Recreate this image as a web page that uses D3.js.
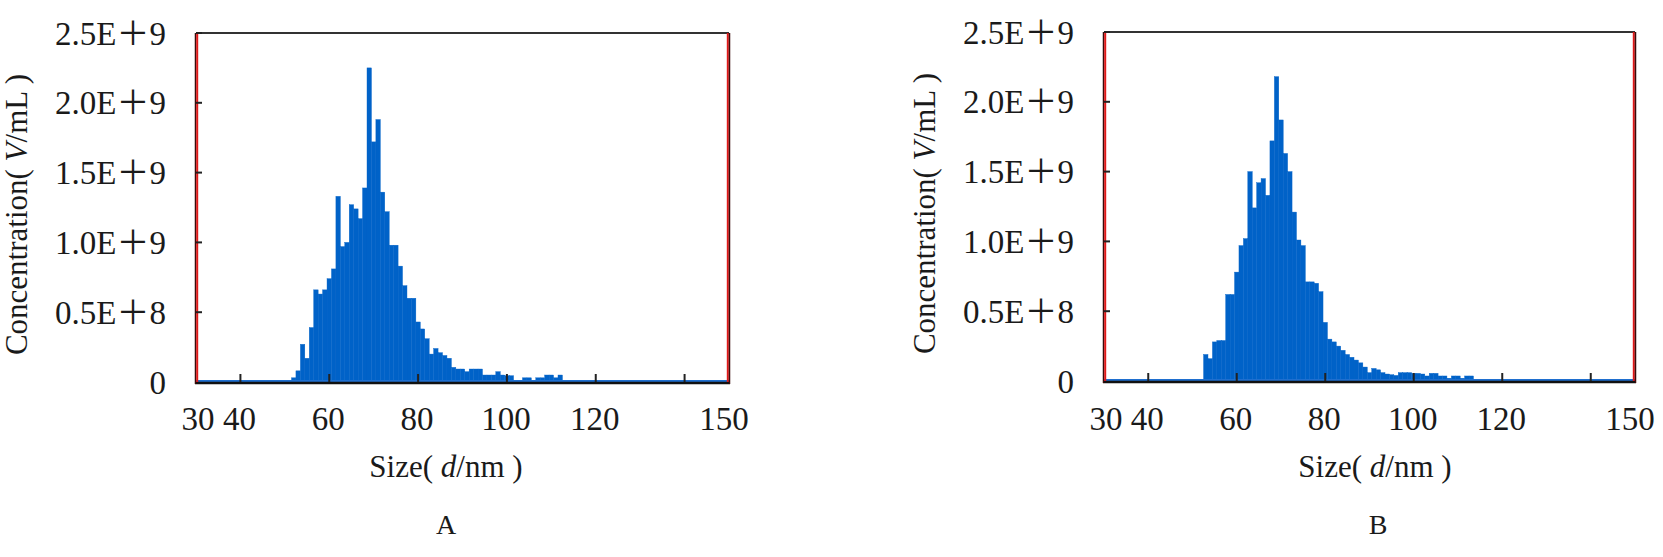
<!DOCTYPE html>
<html><head><meta charset="utf-8">
<script src="https://cdn.jsdelivr.net/npm/d3@7"></script>
<style>html,body{margin:0;padding:0;background:#fff;} svg{display:block;}</style>
</head><body>
<svg id="chart" width="1663" height="557"></svg>
<script>
// ---- data (concentration in units of 1E+9 particles/mL, 1 nm bins centred on size) ----
const sizesA = [52,53,54,55,56,57,58,59,60,61,62,63,64,65,66,67,68,69,70,71,72,73,74,75,76,77,78,79,80,81,82,83,84,85,86,87,88,89,90,91,92,93,94,95,96,97,98,99,100,101,102,103,104,105,106,107,108,109,110,111,112];
const valuesA = [0.03,0.08,0.27,0.17,0.39,0.66,0.63,0.66,0.74,0.81,1.33,0.97,1.00,1.27,1.24,1.17,1.39,2.25,1.72,1.88,1.36,1.22,0.98,0.98,0.83,0.69,0.60,0.60,0.43,0.38,0.31,0.20,0.24,0.21,0.19,0.17,0.105,0.093,0.093,0.074,0.093,0.093,0.093,0.05,0.05,0.05,0.074,0.05,0.045,0.045,0,0,0.03,0.03,0,0.03,0.03,0.05,0.05,0.03,0.05];
const sizesB = [53,54,55,56,57,58,59,60,61,62,63,64,65,66,67,68,69,70,71,72,73,74,75,76,77,78,79,80,81,82,83,84,85,86,87,88,89,90,91,92,93,94,95,96,97,98,99,100,101,102,103,104,105,106,107,108,109,110,111,112,113];
const valuesB = [0.19,0.16,0.28,0.29,0.29,0.62,0.62,0.78,0.97,1.02,1.50,1.24,1.42,1.45,1.33,1.72,2.18,1.87,1.63,1.50,1.21,1.01,0.97,0.71,0.71,0.70,0.64,0.42,0.30,0.28,0.25,0.22,0.19,0.17,0.15,0.13,0.10,0.06,0.09,0.08,0.06,0.05,0.045,0.04,0.06,0.06,0.06,0.055,0.055,0.05,0.036,0.055,0.055,0.036,0.036,0.02,0.036,0.036,0.02,0.036,0.036];
const yTickValues = [0, 0.5, 1.0, 1.5, 2.0, 2.5];
const yTickLabels = ["0", "0.5E\uFF0B8", "1.0E\uFF0B9", "1.5E\uFF0B9", "2.0E\uFF0B9", "2.5E\uFF0B9"];
const xTickValues = [40, 60, 80, 100, 120, 140];
const xLabelValues = [30, 40, 60, 80, 100, 120, 150];
const xLabelTexts = ["30", "40", "60", "80", "100", "120", "150"];
const panelNames = ["A", "B"];

const svg = d3.select("#chart");
const SERIF = "'Liberation Serif','Times New Roman','Noto Sans CJK SC',serif";
const TXT = "#1a1a1a";
const BAR = "#0062c8";

const panels = [
  {name: panelNames[0], sizes: sizesA, values: valuesA, left: 196, right: 729, top: 33, bottom: 382, yTitleX: 27, xTitleX: 446, nameX: 446},
  {name: panelNames[1], sizes: sizesB, values: valuesB, left: 1104, right: 1635, top: 32, bottom: 381, yTitleX: 935, xTitleX: 1375, nameX: 1378}
];

panels.forEach(p => {
  const x = d3.scaleLinear().domain([30, 150]).range([p.left, p.right]);
  const y = d3.scaleLinear().domain([0, 2.5]).range([p.bottom, p.top]);
  const g = svg.append("g");

  // bars
  const bins = p.sizes.map((s, i) => ({s, v: p.values[i]}));
  g.append("g").selectAll("rect").data(bins).join("rect")
    .attr("x", d => x(d.s - 0.5))
    .attr("width", d => x(d.s + 0.5) - x(d.s - 0.5))
    .attr("y", d => y(d.v))
    .attr("height", d => y(0) - y(d.v))
    .attr("fill", BAR).attr("stroke", BAR).attr("stroke-width", 0.4);

  // histogram baseline (blue)
  g.append("line").attr("x1", x(30)).attr("x2", x(150))
    .attr("y1", y(0) - 1).attr("y2", y(0) - 1)
    .attr("stroke", "#1f6fcf").attr("stroke-width", 2);

  // frame
  g.append("line").attr("x1", x(30)).attr("x2", x(150)).attr("y1", p.top).attr("y2", p.top)
    .attr("stroke", "#333").attr("stroke-width", 2);
  g.append("line").attr("x1", x(30) - 1).attr("x2", x(150) + 1).attr("y1", y(0) + 1).attr("y2", y(0) + 1)
    .attr("stroke", "#111").attr("stroke-width", 2.5);
  g.append("line").attr("x1", x(30) - 0.5).attr("x2", x(30) - 0.5).attr("y1", p.top).attr("y2", y(0) + 2)
    .attr("stroke", "#3a0a0a").attr("stroke-width", 1.5);
  g.append("line").attr("x1", x(30) + 1.2).attr("x2", x(30) + 1.2).attr("y1", p.top).attr("y2", y(0))
    .attr("stroke", "#e01818").attr("stroke-width", 2);
  g.append("line").attr("x1", x(150) - 1.2).attr("x2", x(150) - 1.2).attr("y1", p.top).attr("y2", y(0))
    .attr("stroke", "#e01818").attr("stroke-width", 2);
  g.append("line").attr("x1", x(150) + 0.5).attr("x2", x(150) + 0.5).attr("y1", p.top).attr("y2", y(0) + 2)
    .attr("stroke", "#3a0a0a").attr("stroke-width", 1.5);

  // y ticks (inward)
  g.append("g").selectAll("line").data(yTickValues.slice(1)).join("line")
    .attr("x1", x(30)).attr("x2", x(30) + 6)
    .attr("y1", d => y(d)).attr("y2", d => y(d))
    .attr("stroke", "#222").attr("stroke-width", 2);
  // x ticks (inward)
  g.append("g").selectAll("line").data(xTickValues).join("line")
    .attr("x1", d => x(d)).attr("x2", d => x(d))
    .attr("y1", y(0)).attr("y2", y(0) - 8)
    .attr("stroke", "#222").attr("stroke-width", 2);

  // y tick labels
  g.append("g").selectAll("text").data(yTickValues).join("text")
    .attr("x", x(30) - 30).attr("y", d => y(d)).attr("dy", "0.35em")
    .attr("text-anchor", "end")
    .attr("font-family", SERIF).attr("font-size", 33).attr("fill", TXT)
    .text((d, i) => yTickLabels[i]);

  // x tick labels
  g.append("g").selectAll("text").data(xLabelValues).join("text")
    .attr("x", d => x(d) + (d === 150 ? -5 : d === 30 ? 2 : -1))
    .attr("y", 430)
    .attr("text-anchor", "middle")
    .attr("font-family", SERIF).attr("font-size", 33).attr("fill", TXT)
    .text((d, i) => xLabelTexts[i]);

  // y axis title
  const yt = g.append("text")
    .attr("transform", `translate(${p.yTitleX},${(p.top + p.bottom) / 2 + 7}) rotate(-90)`)
    .attr("text-anchor", "middle")
    .attr("font-family", SERIF).attr("font-size", 31).attr("fill", TXT);
  yt.append("tspan").text("Concentration( ");
  yt.append("tspan").attr("font-style", "italic").text("V");
  yt.append("tspan").text("/mL )");

  // x axis title
  const xt = g.append("text")
    .attr("x", p.xTitleX).attr("y", 477)
    .attr("text-anchor", "middle")
    .attr("font-family", SERIF).attr("font-size", 31).attr("fill", TXT);
  xt.append("tspan").text("Size( ");
  xt.append("tspan").attr("font-style", "italic").text("d");
  xt.append("tspan").text("/nm )");

  // panel letter
  g.append("text").attr("x", p.nameX).attr("y", 534)
    .attr("text-anchor", "middle")
    .attr("font-family", SERIF).attr("font-size", 28).attr("fill", TXT)
    .text(p.name);
});
</script>
</body></html>
